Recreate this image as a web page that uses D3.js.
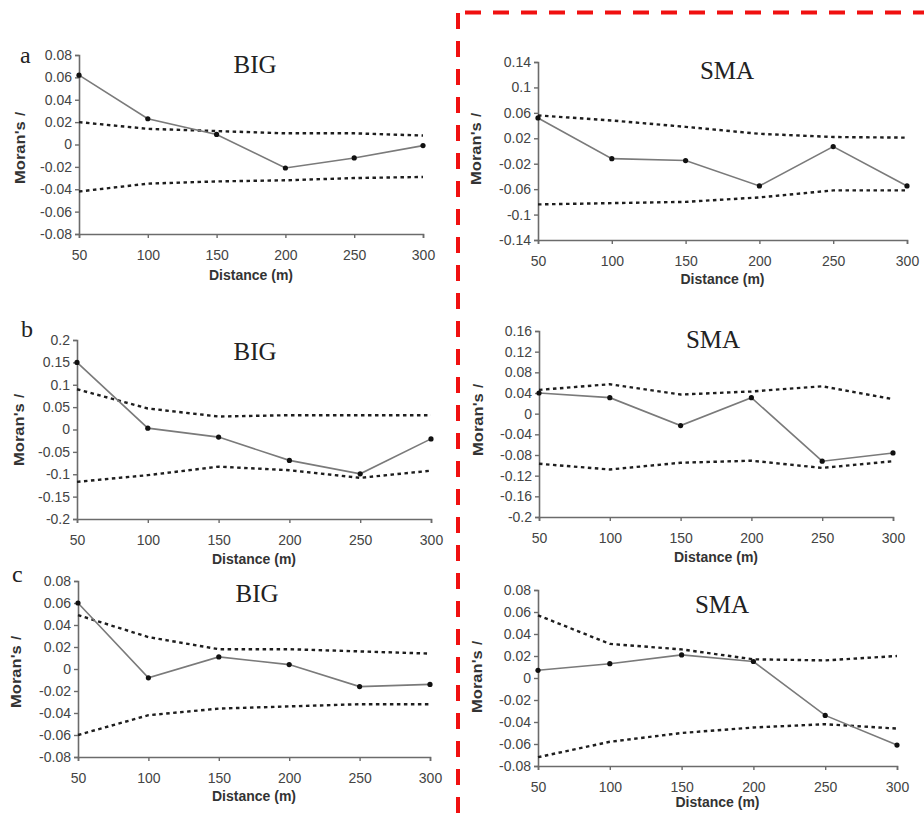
<!DOCTYPE html>
<html>
<head>
<meta charset="utf-8">
<script src="https://cdn.jsdelivr.net/npm/d3@7"></script>
<style>
  html, body { margin: 0; padding: 0; background: #fff; }
  svg { display: block; }
</style>
</head>
<body>
<svg id="chart" width="924" height="814"></svg>
<script>
// ---------------- DATA ----------------
const distances = [50, 100, 150, 200, 250, 300];
const xTicks = [50, 100, 150, 200, 250, 300];

// Panel a
const bigA_observed = [0.062, 0.023, 0.009, -0.021, -0.012, -0.001];
const bigA_upper    = [0.020, 0.014, 0.012, 0.010, 0.010, 0.008];
const bigA_lower    = [-0.042, -0.035, -0.033, -0.032, -0.030, -0.029];
const bigA_ticks    = [0.08, 0.06, 0.04, 0.02, 0, -0.02, -0.04, -0.06, -0.08];

const smaA_observed = [0.052, -0.012, -0.015, -0.055, 0.007, -0.055];
const smaA_upper    = [0.056, 0.048, 0.038, 0.027, 0.022, 0.021];
const smaA_lower    = [-0.084, -0.082, -0.080, -0.073, -0.062, -0.062];
const smaA_ticks    = [0.14, 0.1, 0.06, 0.02, -0.02, -0.06, -0.1, -0.14];

// Panel b
const bigB_observed = [0.150, 0.003, -0.017, -0.069, -0.099, -0.021];
const bigB_upper    = [0.090, 0.047, 0.029, 0.032, 0.032, 0.032];
const bigB_lower    = [-0.117, -0.102, -0.083, -0.091, -0.108, -0.092];
const bigB_ticks    = [0.2, 0.15, 0.1, 0.05, 0, -0.05, -0.1, -0.15, -0.2];

const smaB_observed = [0.040, 0.031, -0.023, 0.031, -0.092, -0.076];
const smaB_upper    = [0.046, 0.057, 0.037, 0.043, 0.053, 0.028];
const smaB_lower    = [-0.097, -0.108, -0.095, -0.091, -0.105, -0.092];
const smaB_ticks    = [0.16, 0.12, 0.08, 0.04, 0, -0.04, -0.08, -0.12, -0.16, -0.2];

// Panel c
const bigC_observed = [0.060, -0.008, 0.011, 0.004, -0.016, -0.014];
const bigC_upper    = [0.049, 0.029, 0.018, 0.018, 0.016, 0.014];
const bigC_lower    = [-0.060, -0.042, -0.036, -0.034, -0.032, -0.032];
const bigC_ticks    = [0.08, 0.06, 0.04, 0.02, 0, -0.02, -0.04, -0.06, -0.08];

const smaC_observed = [0.007, 0.013, 0.021, 0.015, -0.034, -0.061];
const smaC_upper    = [0.057, 0.031, 0.026, 0.017, 0.016, 0.020];
const smaC_lower    = [-0.072, -0.058, -0.050, -0.045, -0.042, -0.046];
const smaC_ticks    = [0.08, 0.06, 0.04, 0.02, 0, -0.02, -0.04, -0.06, -0.08];

const panelLetters = ["a", "b", "c"];
const siteTitles = ["BIG", "SMA"];

// ---------------- LAYOUT ----------------
const panels = [
  { obs: bigA_observed, up: bigA_upper, lo: bigA_lower, ticks: bigA_ticks, title: siteTitles[0], letter: panelLetters[0],
    x0: 79, x1: 423, yT: 55, yB: 234, titleX: 255, titleY: 73, letterX: 20, letterY: 63, ylabX: 20, ylabY: 148, xlabY: 280 },
  { obs: smaA_observed, up: smaA_upper, lo: smaA_lower, ticks: smaA_ticks, title: siteTitles[1], letter: null,
    x0: 538, x1: 907, yT: 62, yB: 240, titleX: 727, titleY: 79, ylabX: 476, ylabY: 149, xlabY: 284 },
  { obs: bigB_observed, up: bigB_upper, lo: bigB_lower, ticks: bigB_ticks, title: siteTitles[0], letter: panelLetters[1],
    x0: 77, x1: 431, yT: 340, yB: 519, titleX: 255, titleY: 360, letterX: 21, letterY: 337, ylabX: 19, ylabY: 430, xlabY: 564 },
  { obs: smaB_observed, up: smaB_upper, lo: smaB_lower, ticks: smaB_ticks, title: siteTitles[1], letter: null,
    x0: 539, x1: 893, yT: 331, yB: 517, titleX: 713, titleY: 348, ylabX: 478, ylabY: 420, xlabY: 562 },
  { obs: bigC_observed, up: bigC_upper, lo: bigC_lower, ticks: bigC_ticks, title: siteTitles[0], letter: panelLetters[2],
    x0: 78, x1: 430, yT: 581, yB: 757, titleX: 257, titleY: 602, letterX: 12, letterY: 582, ylabX: 16, ylabY: 672, xlabY: 801 },
  { obs: smaC_observed, up: smaC_upper, lo: smaC_lower, ticks: smaC_ticks, title: siteTitles[1], letter: null,
    x0: 538, x1: 897, yT: 590, yB: 766, titleX: 722, titleY: 613, ylabX: 477, ylabY: 677, xlabY: 807 }
];

const svg = d3.select("#chart");
svg.append("rect").attr("width", 924).attr("height", 814).attr("fill", "#fff");

const axisColor = "#6b6b6b";
const sans = "'Liberation Sans', Arial, sans-serif";
const serif = "'Liberation Serif', 'Times New Roman', serif";

panels.forEach(p => {
  const g = svg.append("g");
  const x = d3.scaleLinear().domain([50, 300]).range([p.x0, p.x1]);
  const y = d3.scaleLinear().domain([d3.min(p.ticks), d3.max(p.ticks)]).range([p.yB, p.yT]);

  // Y axis
  const ya = g.append("g").attr("transform", `translate(${p.x0},0)`)
    .call(d3.axisLeft(y).tickValues(p.ticks).tickFormat(d => String(d)).tickSize(4).tickPadding(3));
  // X axis
  const xa = g.append("g").attr("transform", `translate(0,${p.yB})`)
    .call(d3.axisBottom(x).tickValues(xTicks).tickFormat(d => String(d)).tickSize(4).tickPadding(12));
  [ya, xa].forEach(a => {
    a.select(".domain").attr("stroke", axisColor).attr("stroke-width", 1.6);
    a.selectAll(".tick line").attr("stroke", axisColor).attr("stroke-width", 1.4);
    a.selectAll("text").attr("fill", "#444").style("font-family", sans).style("font-size", "14px");
  });

  // confidence envelopes (dotted)
  const line = d3.line().x((d, i) => x(distances[i])).y(d => y(d));
  [p.up, p.lo].forEach(arr => {
    g.append("path").datum(arr).attr("d", line)
      .attr("fill", "none").attr("stroke", "#1e1e1e").attr("stroke-width", 2.4)
      .attr("stroke-dasharray", "3.5,3.5");
  });

  // observed line
  g.append("path").datum(p.obs).attr("d", line)
    .attr("fill", "none").attr("stroke", "#7a7a7a").attr("stroke-width", 1.6);
  g.selectAll("circle.pt").data(p.obs).enter().append("circle")
    .attr("cx", (d, i) => x(distances[i])).attr("cy", d => y(d)).attr("r", 2.6)
    .attr("fill", "#111");

  // titles
  g.append("text").attr("x", p.titleX).attr("y", p.titleY).attr("text-anchor", "middle")
    .style("font-family", serif).style("font-size", "25px").attr("fill", "#222").text(p.title);
  if (p.letter) {
    g.append("text").attr("x", p.letterX).attr("y", p.letterY)
      .style("font-family", serif).style("font-size", "24px").attr("fill", "#222").text(p.letter);
  }
  // x-axis title
  g.append("text").attr("x", (p.x0 + p.x1) / 2).attr("y", p.xlabY).attr("text-anchor", "middle")
    .style("font-family", sans).style("font-size", "14px").style("font-weight", "bold").attr("fill", "#333")
    .text("Distance (m)");
  // y-axis title
  const yt = g.append("text").attr("transform", `translate(${p.ylabX},${p.ylabY}) rotate(-90)`)
    .attr("text-anchor", "middle").attr("dy", "0.35em")
    .attr("textLength", 72).attr("lengthAdjust", "spacingAndGlyphs")
    .style("font-family", sans).style("font-size", "14px").style("font-weight", "bold").attr("fill", "#333");
  yt.append("tspan").text("Moran's ");
  yt.append("tspan").style("font-style", "italic").style("font-weight", "normal").text("I");
});

// red dashed separator
svg.append("line").attr("x1", 458).attr("y1", 13).attr("x2", 458).attr("y2", 814)
  .attr("stroke", "#f01010").attr("stroke-width", 4).attr("stroke-dasharray", "16,12");
svg.append("line").attr("x1", 465).attr("y1", 12.5).attr("x2", 924).attr("y2", 12.5)
  .attr("stroke", "#f01010").attr("stroke-width", 4).attr("stroke-dasharray", "16,12");
</script>
</body>
</html>
